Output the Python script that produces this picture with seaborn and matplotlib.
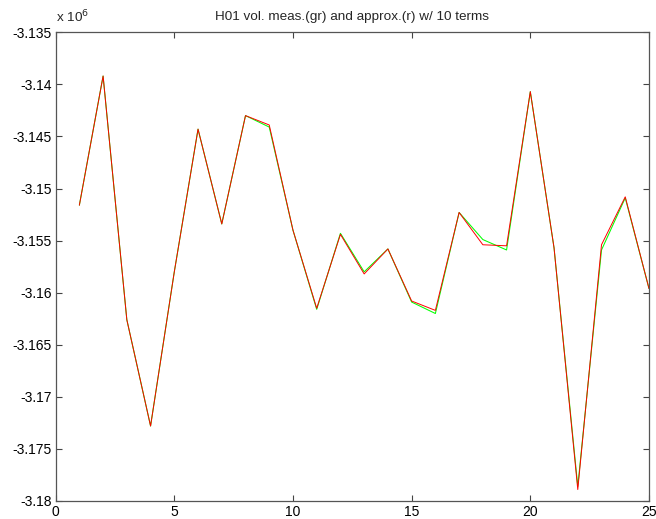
import matplotlib

matplotlib.use("Agg")
import matplotlib.pyplot as plt
import seaborn as sns
import pandas as pd

# sample index 1..25, volumes in units of 10^6
samples = list(range(1, 26))
measured = [-3.1516, -3.1392, -3.1626, -3.1728, -3.1580, -3.1443, -3.1534, -3.1430,
            -3.1441, -3.1540, -3.1616, -3.1543, -3.1580, -3.1558, -3.1609, -3.1620,
            -3.1523, -3.1549, -3.1559, -3.1407, -3.1557, -3.1786, -3.1559, -3.1509,
            -3.1596]
approx = [-3.1516, -3.1392, -3.1626, -3.1728, -3.1580, -3.1443, -3.1534, -3.1430,
          -3.1439, -3.1540, -3.1615, -3.1544, -3.1582, -3.1558, -3.1608, -3.1617,
          -3.1523, -3.1554, -3.1555, -3.1407, -3.1557, -3.1789, -3.1554, -3.1508,
          -3.1596]
yticks = [-3.18, -3.175, -3.17, -3.165, -3.16, -3.155, -3.15, -3.145, -3.14, -3.135]
ytick_labels = ["-3.18", "-3.175", "-3.17", "-3.165", "-3.16", "-3.155", "-3.15",
                "-3.145", "-3.14", "-3.135"]
xticks = [0, 5, 10, 15, 20, 25]

df = pd.DataFrame({"sample": samples, "measured": measured, "approx": approx})

sns.set_theme(style="white")
plt.rcParams["font.family"] = ["Liberation Sans", "DejaVu Sans"]

fig = plt.figure(figsize=(6.56, 5.19), dpi=100)
ax = fig.add_axes([0.0848, 0.0347, 0.9045, 0.9031])

sns.lineplot(data=df, x="sample", y="measured", color="#00ff00", linewidth=0.75, ax=ax)
sns.lineplot(data=df, x="sample", y="approx", color="#ff0000", linewidth=0.7, ax=ax)

ax.set_xlim(0, 25)
ax.set_ylim(-3.18, -3.135)
ax.set_xticks(xticks)
ax.set_xticklabels([str(t) for t in xticks])
ax.set_yticks(yticks)
ax.set_yticklabels(ytick_labels)
ax.set_xlabel("")
ax.set_ylabel("")
ax.tick_params(direction="in", length=4, width=0.8, color="#444444",
               labelsize=10, labelcolor="black", top=True, right=True,
               bottom=True, left=True, pad=3)
for sp in ax.spines.values():
    sp.set_color("#555555")
    sp.set_linewidth(0.9)

ax.set_title("H01 vol. meas.(gr) and approx.(r) w/ 10 terms", fontsize=9.7, pad=9)
fig.text(0.0848, 0.952, r"x 10$^{6}$", fontsize=9.7, ha="left", va="bottom")

fig.savefig("out.png", dpi=100)
